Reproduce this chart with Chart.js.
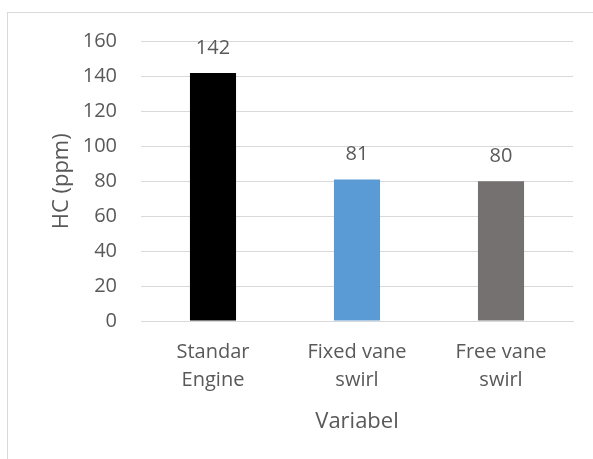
<!DOCTYPE html>
<html>
<head>
<meta charset="utf-8">
<script src="https://cdn.jsdelivr.net/npm/chart.js@4"></script>
<style>
html,body{margin:0;padding:0;background:#fff;overflow:hidden;}
#frame{position:absolute;left:7px;top:12px;width:620px;height:480px;border:1px solid #D9D9D9;box-sizing:border-box;}
#wrap{position:absolute;left:0;top:0;width:593px;height:459px;}
</style>
</head>
<body>
<div id="frame"></div>
<div id="wrap"><canvas id="c" width="593" height="459"></canvas></div>
<script>
const categories = [["Standar","Engine"],["Fixed vane","swirl"],["Free vane","swirl"]];
const values = [142, 81, 80];
const barColors = ["#000000", "#5B9BD5", "#767171"];
const yTicks = [0, 20, 40, 60, 80, 100, 120, 140, 160];
const yTitle = "HC (ppm)";
const xTitle = "Variabel";

const FONT = "'Open Sans', Lato, sans-serif";
const TXT = "#595959";

const labelPlugin = {
  id: 'valueLabels',
  afterDatasetsDraw(chart) {
    const ctx = chart.ctx;
    const meta = chart.getDatasetMeta(0);
    ctx.save();
    ctx.fillStyle = TXT;
    ctx.font = "20px " + FONT;
    ctx.textAlign = "center";
    ctx.textBaseline = "middle";
    meta.data.forEach((bar, i) => {
      ctx.fillText(String(values[i]), bar.x, bar.y - 25);
    });
    ctx.restore();
  }
};

new Chart(document.getElementById('c'), {
  type: 'bar',
  data: {
    labels: categories,
    datasets: [{
      data: values,
      backgroundColor: barColors,
      borderWidth: 0,
      barPercentage: 0.32,
      categoryPercentage: 1.0
    }]
  },
  options: {
    responsive: false,
    animation: false,
    devicePixelRatio: 1,
    layout: { padding: { left: 0, right: 20, top: 41.6, bottom: 0 } },
    plugins: { legend: { display: false }, tooltip: { enabled: false } },
    scales: {
      x: {
        grid: { display: false, drawTicks: false },
        border: { display: true, color: "#D9D9D9", width: 1 },
        ticks: { color: TXT, font: { family: FONT, size: 20, lineHeight: 1.4 }, padding: 17, maxRotation: 0, autoSkip: false },
        title: { display: true, text: xTitle, color: TXT, font: { family: FONT, size: 22 }, padding: { top: 24, bottom: 24 } },
        afterFit(s) { s.height = 138; }
      },
      y: {
        min: 0, max: 160,
        afterBuildTicks(s) { s.ticks = yTicks.map(v => ({ value: v })); },
        grid: { color: "#D9D9D9", lineWidth: 1, drawTicks: false },
        border: { display: false },
        ticks: { color: TXT, font: { family: FONT, size: 20 }, padding: 24 },
        title: { display: true, text: yTitle, color: TXT, font: { family: FONT, size: 22 }, padding: { top: 49, bottom: 0 } },
        afterFit(s) { s.width = 141; }
      }
    }
  },
  plugins: [labelPlugin]
});
</script>
</body>
</html>
